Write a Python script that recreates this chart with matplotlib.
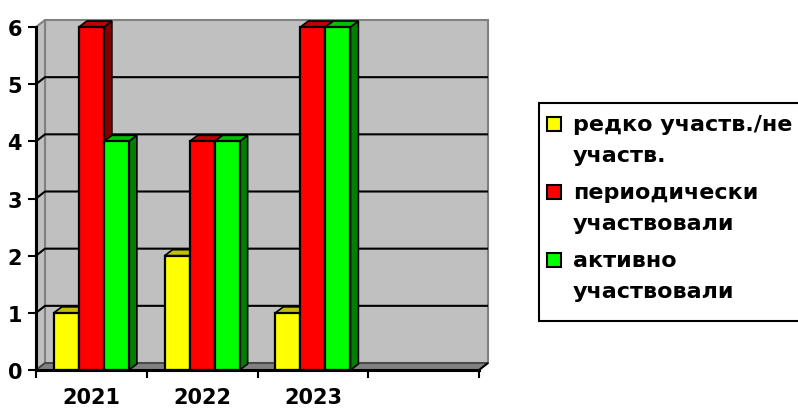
import matplotlib
matplotlib.use("Agg")
import matplotlib.pyplot as plt
from matplotlib.patches import Polygon, Rectangle
from matplotlib.ticker import FixedLocator, NullFormatter, FixedFormatter

categories = ["2021", "2022", "2023"]
series_names = [["редко участв./не", "участв."], ["периодически", "участвовали"], ["активно", "участвовали"]]
rare = [1, 2, 1]
periodic = [6, 4, 6]
active = [4, 4, 6]
series_values = [rare, periodic, active]
front_colors = ["#FFFF00", "#FF0000", "#00FF00"]
top_colors = ["#C0C000", "#C00000", "#00C000"]
side_colors = ["#808000", "#800000", "#008000"]
yticks = [0, 1, 2, 3, 4, 5, 6]
n_slots = 4

plt.rcParams['font.family'] = ['DejaVu Sans']
plt.rcParams['font.weight'] = 'bold'

W, H = 798, 410
fig = plt.figure(figsize=(W / 100, H / 100), dpi=100)
x0, x1, y0, y1 = 36, 479, 371, 28
ax = fig.add_axes([x0 / W, 1 - y0 / H, (x1 - x0) / W, (y0 - y1) / H])
ax.set_xlim(0, n_slots)
ax.set_ylim(0, 6)
ax.patch.set_visible(False)

px_x = n_slots / (x1 - x0)
px_y = 6 / (y0 - y1)
wdx, wdy = 9 * px_x, 7 * px_y
bdx, bdy = 8 * px_x, 6 * px_y

wall_gray = "#C0C0C0"
edge_gray = "#808080"
ax.add_patch(Polygon([(0, 0), (n_slots, 0), (n_slots + wdx, wdy), (wdx, wdy)],
                     closed=True, facecolor=edge_gray, edgecolor=edge_gray, lw=1, clip_on=False, zorder=1))
ax.add_patch(Polygon([(wdx, wdy), (n_slots + wdx, wdy), (n_slots + wdx, 6 + wdy), (wdx, 6 + wdy)],
                     closed=True, facecolor=wall_gray, edgecolor=edge_gray, lw=1.5, clip_on=False, zorder=1))
ax.add_patch(Polygon([(0, 0), (wdx, wdy), (wdx, 6 + wdy), (0, 6)],
                     closed=True, facecolor=wall_gray, edgecolor=edge_gray, lw=1.5, clip_on=False, zorder=1))
for yv in yticks[1:-1]:
    ax.plot([0, wdx, n_slots + wdx], [yv, yv + wdy, yv + wdy], color="black", lw=1.5,
            clip_on=False, zorder=2, solid_capstyle='butt')
ax.plot([0, wdx, n_slots + wdx], [0, wdy, wdy], color="#404040", lw=1.2, clip_on=False, zorder=2)

bw = 25 * px_x
for i, cat in enumerate(categories):
    start = i + 0.5 - 1.5 * bw
    for j, vals in enumerate(series_values):
        v = vals[i]
        l = start + j * bw
        z = 3 + j * 0.1 + i
        ax.add_patch(Polygon([(l + bw, 0), (l + bw + bdx, bdy), (l + bw + bdx, v + bdy), (l + bw, v)],
                             closed=True, facecolor=side_colors[j], edgecolor="black", lw=1.2,
                             clip_on=False, zorder=z, joinstyle='miter'))
        ax.add_patch(Polygon([(l, v), (l + bdx, v + bdy), (l + bw + bdx, v + bdy), (l + bw, v)],
                             closed=True, facecolor=top_colors[j], edgecolor="black", lw=1.2,
                             clip_on=False, zorder=z, joinstyle='miter'))
        ax.add_patch(Rectangle((l, 0), bw, v, facecolor=front_colors[j], edgecolor="black", lw=1.6,
                               clip_on=False, zorder=z + 0.05, joinstyle='miter'))

ax.plot([n_slots, n_slots + wdx * 0.9], [0, wdy * 0.9], color="black", lw=1.5, clip_on=False, zorder=10)

for s in ["top", "right"]:
    ax.spines[s].set_visible(False)
for s in ["left", "bottom"]:
    ax.spines[s].set_linewidth(2.2)
    ax.spines[s].set_zorder(12)

ax.set_yticks(yticks)
ax.set_yticklabels([str(t) for t in yticks], fontsize=15, fontweight='bold')
ax.tick_params(axis='y', length=6, width=1.5, pad=4, direction='out')
ax.xaxis.set_major_locator(FixedLocator(list(range(n_slots + 1))))
ax.xaxis.set_major_formatter(NullFormatter())
ax.xaxis.set_minor_locator(FixedLocator([i + 0.5 for i in range(len(categories))]))
ax.xaxis.set_minor_formatter(FixedFormatter(categories))
ax.tick_params(axis='x', which='major', length=6, width=1.5, direction='out')
ax.tick_params(axis='x', which='minor', length=0, pad=12, labelsize=15)
for lab in ax.get_xticklabels(minor=True):
    lab.set_fontweight('bold')

# legend
lx0, ly0, lx1, ly1 = 539, 104, 803, 322
fig.patches.append(Rectangle((lx0 / W, 1 - ly1 / H), (lx1 - lx0) / W, (ly1 - ly0) / H,
                             transform=fig.transFigure, facecolor="white", edgecolor="black", lw=1.5))
for j, lines in enumerate(series_names):
    base = 131 + 68 * j
    fig.patches.append(Rectangle((547 / W, 1 - (base + 1) / H), 14 / W, 14 / H, transform=fig.transFigure,
                                 facecolor=front_colors[j], edgecolor="black", lw=1.5))
    for k, line in enumerate(lines):
        fig.text(573 / W, 1 - (base + 31.5 * k) / H, line, fontsize=16, fontweight='bold',
                 va='baseline', ha='left')

fig.savefig("out.png", dpi=100)
